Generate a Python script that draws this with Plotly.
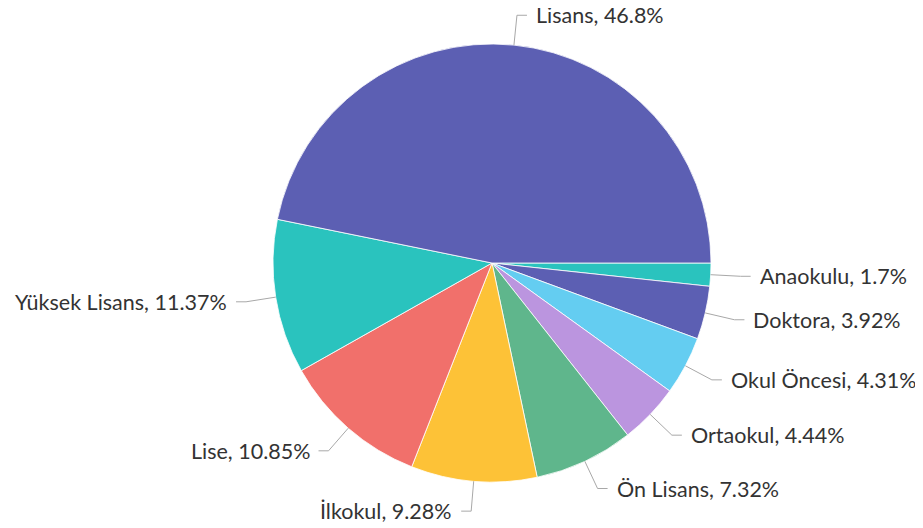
import math
import plotly.graph_objects as go

# slices listed clockwise from 3 o'clock
labels = ["Anaokulu", "Doktora", "Okul Öncesi", "Ortaokul", "Ön Lisans",
          "İlkokul", "Lise", "Yüksek Lisans", "Lisans"]
percents = [1.7, 3.92, 4.31, 4.44, 7.32, 9.28, 10.85, 11.37, 46.8]
colors = ["#2ac3be", "#5c5fb3", "#64cdf1", "#bb95df", "#5fb68c",
          "#fdc237", "#f1706b", "#2ac3be", "#5c5fb3"]

# page body has an 8px margin, so the figure is a bit smaller than the window
W, H = 915, 520
SIZE = 438  # pie diameter in px
FONT = "Lato, 'Source Sans Pro', sans-serif"

fig = go.Figure()

fig.add_trace(
    go.Pie(
        labels=labels,
        values=percents,
        sort=False,
        direction="clockwise",
        rotation=90,
        textinfo="none",
        hovertemplate="%{label}, %{value}%<extra></extra>",
        marker=dict(colors=colors, line=dict(color="white", width=0.8)),
        showlegend=False,
    )
)

# outside labels with leader lines, positioned from slice mid-angles
total = sum(percents)
len1, len2, gap = 30, 10, 7
shapes, annotations = [], []
acc = 0
for lab, p in zip(labels, percents):
    mid = -(acc + p / 2) / total * 2 * math.pi  # clockwise from 3 o'clock
    acc += p
    c, s = math.cos(mid), math.sin(mid)
    r = SIZE / 2
    x0, y0 = r * c, r * s
    x1, y1 = (r + len1) * c, (r + len1) * s
    side = 1 if c >= 0 else -1
    x2 = x1 + side * len2

    def px(x):
        return 0.5 + x / SIZE

    shapes.append(dict(
        type="path", xref="paper", yref="paper",
        path=f"M {px(x0)},{px(y0)} L {px(x1)},{px(y1)} L {px(x2)},{px(y1)}",
        line=dict(color="#a8a8a8", width=1),
    ))
    annotations.append(dict(
        x=px(x2 + side * gap), y=px(y1), xref="paper", yref="paper",
        text=f"{lab}, {p}%", showarrow=False,
        xanchor="left" if side > 0 else "right", yanchor="middle",
        font=dict(family=FONT, size=21.5, color="#333333"),
    ))

fig.update_layout(
    width=W,
    height=H,
    paper_bgcolor="white",
    plot_bgcolor="white",
    margin=dict(l=265, r=212, t=36, b=46),
    shapes=shapes,
    annotations=annotations,
    font=dict(family=FONT),
)

fig.write_html("out.html")
